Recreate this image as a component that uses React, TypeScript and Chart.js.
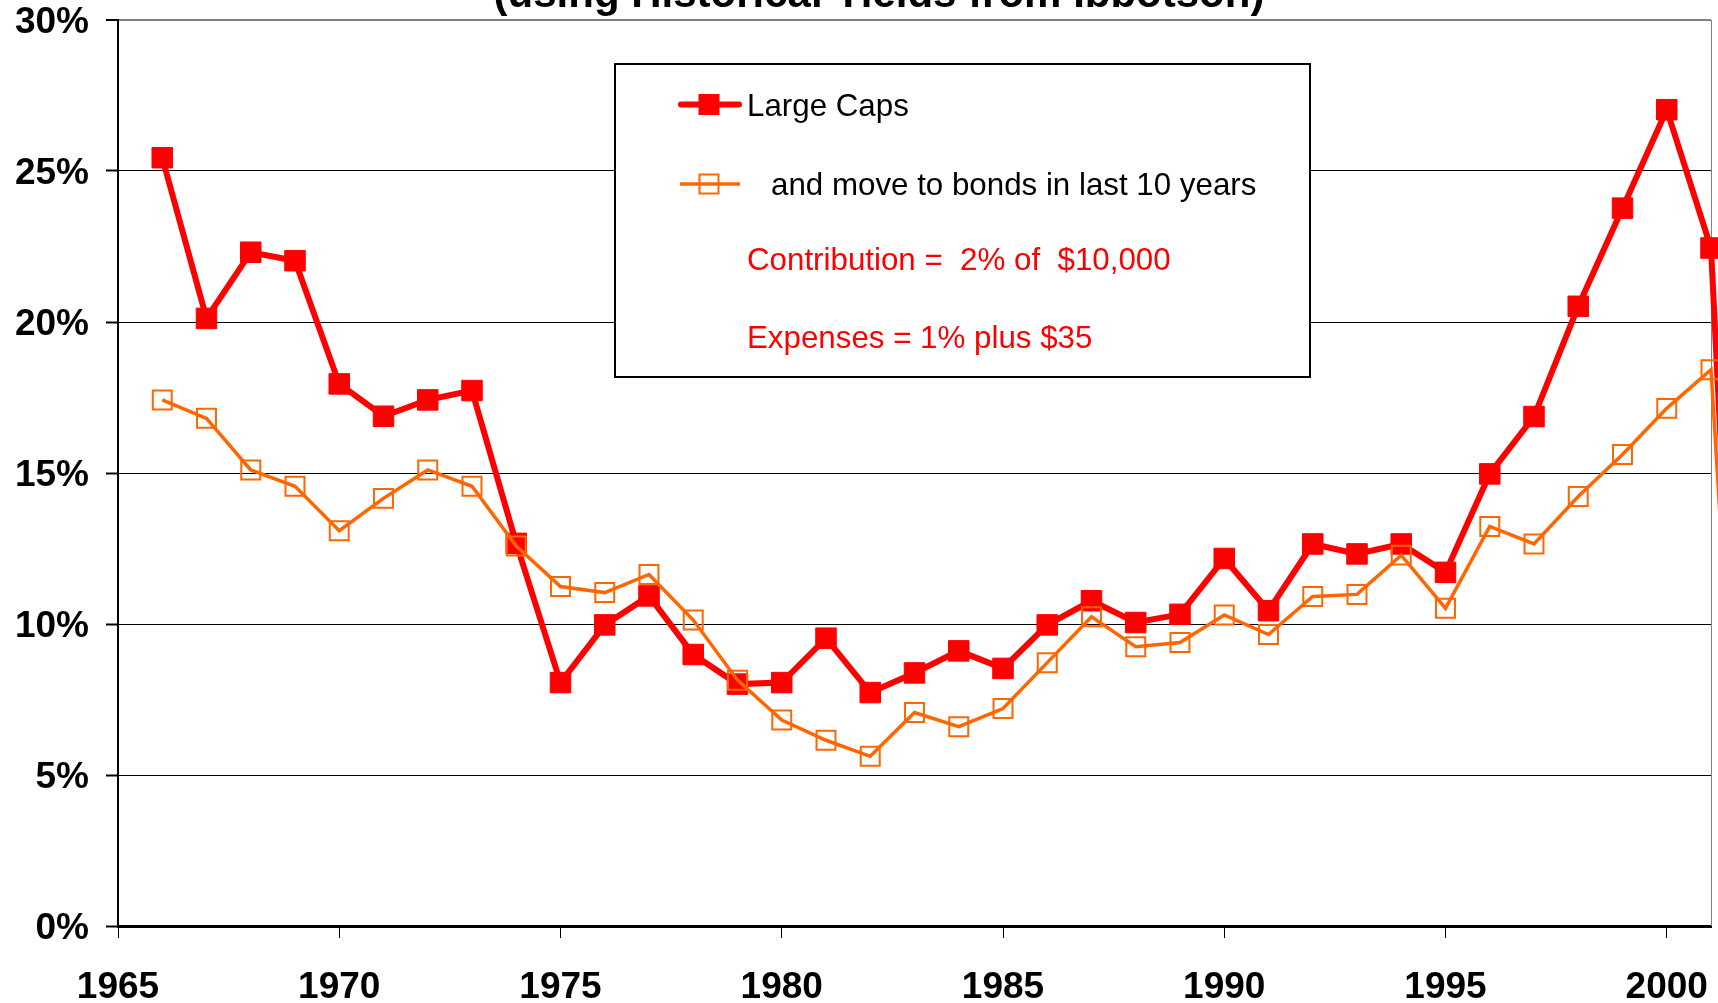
import React, { useEffect, useRef } from 'react';
import { Chart, registerables } from 'chart.js';

Chart.register(...registerables);

// ---- Data ----
const years = [
  1966, 1967, 1968, 1969, 1970, 1971, 1972, 1973, 1974, 1975,
  1976, 1977, 1978, 1979, 1980, 1981, 1982, 1983, 1984, 1985,
  1986, 1987, 1988, 1989, 1990, 1991, 1992, 1993, 1994, 1995,
  1996, 1997, 1998, 1999, 2000, 2001, 2002,
];
const largeCaps = [
  25.44, 20.12, 22.31, 22.03, 17.95, 16.88, 17.42, 17.73, 12.67, 8.06,
  9.97, 10.93, 8.99, 8.01, 8.06, 9.53, 7.73, 8.38, 9.11, 8.53,
  9.97, 10.77, 10.05, 10.32, 12.17, 10.44, 12.65, 12.32, 12.65, 11.71,
  14.97, 16.87, 20.52, 23.77, 27.03, 22.45, -7.0,
];
const withBonds = [
  17.42, 16.81, 15.1, 14.56, 13.09, 14.16, 15.1, 14.56, 12.58, 11.24,
  11.04, 11.64, 10.13, 8.14, 6.82, 6.15, 5.62, 7.07, 6.6, 7.2,
  8.72, 10.24, 9.25, 9.39, 10.3, 9.65, 10.91, 10.98, 12.28, 10.52,
  13.23, 12.65, 14.22, 15.61, 17.14, 18.42, -5.4,
];
const xTickYears = [1965, 1970, 1975, 1980, 1985, 1990, 1995, 2000];
const yTickValues = [0, 5, 10, 15, 20, 25, 30];
const xRange = [1965, 2001];
const titleText = '(using Historical Yields from Ibbotson)';
const seriesNames = ['Large Caps', 'and move to bonds in last 10 years'];
const noteLines = ['Contribution =  2% of  $10,000', 'Expenses = 1% plus $35'];

const FONT = "'Liberation Sans', Arial, Helvetica, sans-serif";
const RED = '#FF0000';
const ORANGE = '#FF6600';

const decorPlugin = {
  id: 'decor',
  beforeDatasetsDraw(chart: any) {
    const { ctx, chartArea } = chart;
    ctx.save();
    ctx.strokeStyle = '#808080';
    ctx.lineWidth = 1;
    ctx.beginPath();
    ctx.moveTo(Math.round(chartArea.right) + 0.5, chartArea.top);
    ctx.lineTo(Math.round(chartArea.right) + 0.5, chartArea.bottom);
    ctx.stroke();
    ctx.restore();
  },
  afterDraw(chart: any) {
    const { ctx } = chart;
    ctx.save();
    // Title (cropped at the top of the picture)
    ctx.fillStyle = '#000';
    ctx.font = `bold 42px ${FONT}`;
    ctx.textAlign = 'center';
    ctx.textBaseline = 'alphabetic';
    ctx.fillText(titleText, 879, 7);

    // Legend box
    const bx = 615, by = 64, bw = 695, bh = 313;
    ctx.fillStyle = '#fff';
    ctx.fillRect(bx, by, bw, bh);
    ctx.strokeStyle = '#000';
    ctx.lineWidth = 2;
    ctx.strokeRect(bx, by, bw, bh);

    // Row 1: Large Caps
    ctx.lineCap = 'round';
    ctx.strokeStyle = RED;
    ctx.lineWidth = 6;
    ctx.beginPath();
    ctx.moveTo(681, 104.5);
    ctx.lineTo(739, 104.5);
    ctx.stroke();
    ctx.fillStyle = RED;
    ctx.fillRect(709 - 10.5, 104.5 - 10.5, 21, 21);

    // Row 2: bonds
    ctx.strokeStyle = ORANGE;
    ctx.lineWidth = 3.5;
    ctx.lineCap = 'butt';
    ctx.beginPath();
    ctx.moveTo(680, 184);
    ctx.lineTo(740, 184);
    ctx.stroke();
    ctx.lineWidth = 2;
    ctx.strokeRect(709 - 9.5, 184 - 9.5, 19, 19);

    ctx.textAlign = 'left';
    ctx.textBaseline = 'alphabetic';
    ctx.font = `31.3px ${FONT}`;
    ctx.fillStyle = '#000';
    ctx.fillText(seriesNames[0], 747, 116);
    ctx.fillText(seriesNames[1], 771, 194.5);
    ctx.fillStyle = RED;
    ctx.fillText(noteLines[0], 747, 270);
    ctx.fillText(noteLines[1], 747, 348);
    ctx.restore();
  },
};

export default function App() {
  const canvasRef = useRef<HTMLCanvasElement | null>(null);

  useEffect(() => {
    document.body.style.margin = '0';
    document.body.style.overflow = 'hidden';
    const canvas = canvasRef.current;
    if (!canvas) return;

    const chart = new Chart(canvas, {
      type: 'line',
      data: {
        datasets: [
          {
            label: seriesNames[1],
            data: years.map((y, i) => ({ x: y, y: withBonds[i] })),
            borderColor: ORANGE,
            borderWidth: 3.5,
            pointStyle: 'rect',
            pointRadius: 13.4,
            pointBackgroundColor: 'rgba(0,0,0,0)',
            pointBorderColor: ORANGE,
            pointBorderWidth: 2,
            tension: 0,
            clip: false as any,
            order: 0,
          },
          {
            label: seriesNames[0],
            data: years.map((y, i) => ({ x: y, y: largeCaps[i] })),
            borderColor: RED,
            borderWidth: 6,
            pointStyle: 'rect',
            pointRadius: 14.5,
            pointBackgroundColor: RED,
            pointBorderColor: RED,
            pointBorderWidth: 1,
            tension: 0,
            clip: false as any,
            order: 1,
          },
        ],
      },
      options: {
        responsive: false,
        animation: false,
        devicePixelRatio: 1,
        layout: { autoPadding: false, padding: { left: 0, top: 20, right: 7, bottom: 0 } },
        plugins: {
          legend: { display: false },
          title: { display: false },
          tooltip: { enabled: false },
        },
        scales: {
          x: {
            type: 'linear',
            bounds: 'data',
            afterDataLimits: (s: any) => {
              s.min = xRange[0];
              s.max = xRange[1];
            },
            afterBuildTicks: (s: any) => {
              s.ticks = xTickYears.map((v) => ({ value: v }));
            },
            afterFit: (s: any) => {
              s.height = 77;
              s.paddingLeft = 0;
              s.paddingRight = 0;
              s.paddingTop = 0;
              s.paddingBottom = 0;
            },
            grid: {
              display: true,
              drawOnChartArea: false,
              drawTicks: true,
              tickLength: 12,
              color: '#000',
              tickColor: '#000',
              tickWidth: 1,
            } as any,
            border: { display: true, color: '#000', width: 3 },
            ticks: {
              autoSkip: false,
              maxRotation: 0,
              padding: 28,
              color: '#000',
              font: { family: FONT, size: 37, weight: 'bold' },
              callback: (v: any) => String(v),
            },
          },
          y: {
            type: 'linear',
            min: 0,
            max: 30,
            afterBuildTicks: (s: any) => {
              s.ticks = yTickValues.map((v) => ({ value: v }));
            },
            afterFit: (s: any) => {
              s.width = 118;
              s.paddingLeft = 0;
              s.paddingRight = 0;
              s.paddingTop = 0;
              s.paddingBottom = 0;
            },
            grid: {
              display: true,
              drawOnChartArea: true,
              drawTicks: true,
              tickLength: 12,
              color: (c: any) => (c.tick && c.tick.value === 30 ? '#808080' : '#000'),
              lineWidth: (c: any) => (c.tick && c.tick.value === 30 ? 2 : 1),
              tickColor: '#000',
              tickWidth: 2,
            } as any,
            border: { display: true, color: '#000', width: 2 },
            ticks: {
              padding: 17,
              labelOffset: 3,
              color: '#000',
              font: { family: FONT, size: 37, weight: 'bold' },
              callback: (v: any) => `${v}%`,
            },
          },
        },
      },
      plugins: [decorPlugin],
    } as any);

    return () => {
      chart.destroy();
    };
  }, []);

  return (
    <div style={{ position: 'absolute', left: 0, top: 0, width: 1718, height: 1003, background: '#fff' }}>
      <canvas ref={canvasRef} width={1718} height={1003} style={{ display: 'block', width: 1718, height: 1003 }} />
    </div>
  );
}
